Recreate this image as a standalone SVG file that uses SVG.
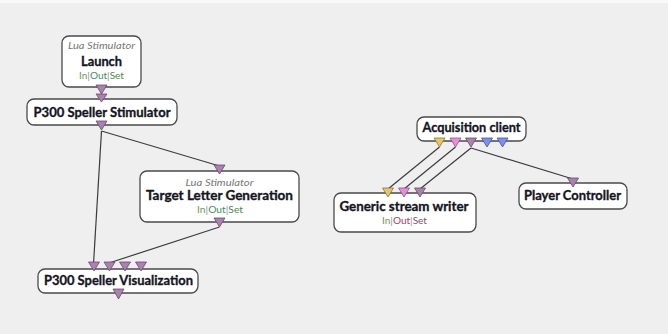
<svg xmlns="http://www.w3.org/2000/svg" width="668" height="334" viewBox="0 0 668 334">
<style>
.box{fill:#fff;stroke:#4a4a4a;stroke-width:1.3}
.name{font-family:Lato,"Liberation Sans",sans-serif;font-weight:bold;font-size:13.5px;fill:#15151f;stroke:#15151f;stroke-width:0.35;text-anchor:middle}
.type{font-family:Lato,"Liberation Sans",sans-serif;font-style:italic;font-size:9.5px;fill:#777;text-anchor:middle}
.ios{font-family:Lato,"Liberation Sans",sans-serif;font-size:9.5px;text-anchor:middle}
.sep{fill:#8a8aa8}
.g1{fill:#6f9a55}.g2{fill:#3f8f5f}.g3{fill:#4a8a4a}
.r2{fill:#a8405e}.r3{fill:#8a4f72}
.stim{fill:#a982ad;stroke:#6a4a6e;stroke-width:0.8}
.sig{fill:#e6c56a;stroke:#8a7440;stroke-width:0.8}
.pink{fill:#e98ed9;stroke:#8e4f86;stroke-width:0.8}
.blue{fill:#7f8ff0;stroke:#4a5696;stroke-width:0.8}
.link{stroke:#3c3c3c;stroke-width:1.2;fill:none}
</style>
<rect x="0" y="0" width="668" height="334" fill="#efefef"/>
<rect x="0" y="0" width="668" height="3" fill="#f8f8f8"/>

<g id="connectors">
<line class="link" x1="101.5" y1="94" x2="101.5" y2="96"/>
<line class="link" x1="101.5" y1="131" x2="219.5" y2="166"/>
<line class="link" x1="101.5" y1="131" x2="93.5" y2="264"/>
<line class="link" x1="219.5" y1="227" x2="109" y2="263"/>
<line class="link" x1="439.5" y1="147" x2="388" y2="189"/>
<line class="link" x1="455.5" y1="147" x2="404" y2="189"/>
<line class="link" x1="471" y1="148" x2="420" y2="189"/>
<line class="link" x1="471" y1="148" x2="573" y2="179"/>
</g>

<g id="launch">
<rect class="box" x="62" y="36" width="79" height="51" rx="7"/>
<text class="type" x="101.5" y="48.5" textLength="67" lengthAdjust="spacingAndGlyphs">Lua Stimulator</text>
<text class="name" x="101.5" y="66" textLength="41" lengthAdjust="spacingAndGlyphs">Launch</text>
<text class="ios" x="101.5" y="78.5" textLength="45" lengthAdjust="spacingAndGlyphs"><tspan class="g1">In</tspan><tspan class="sep">|</tspan><tspan class="g2">Out</tspan><tspan class="sep">|</tspan><tspan class="g3">Set</tspan></text>
<polygon class="stim" points="96,85 107,85 101.5,94"/>
</g>

<g id="p300-stimulator">
<rect class="box" x="27" y="99" width="150" height="26" rx="7"/>
<polygon class="stim" points="96,94 107,94 101.5,102"/>
<text class="name" x="102" y="117" textLength="137" lengthAdjust="spacingAndGlyphs">P300 Speller Stimulator</text>
<polygon class="stim" points="96,121 107,121 101.5,130"/>
</g>

<g id="target-letter-generation">
<rect class="box" x="140" y="171" width="159" height="51" rx="7"/>
<polygon class="stim" points="214,165 225,165 219.5,174"/>
<text class="type" x="219.5" y="185.7" textLength="68" lengthAdjust="spacingAndGlyphs">Lua Stimulator</text>
<text class="name" x="219.5" y="199.5" textLength="147" lengthAdjust="spacingAndGlyphs">Target Letter Generation</text>
<text class="ios" x="220" y="213" textLength="46" lengthAdjust="spacingAndGlyphs"><tspan class="g1">In</tspan><tspan class="sep">|</tspan><tspan class="g2">Out</tspan><tspan class="sep">|</tspan><tspan class="g3">Set</tspan></text>
<polygon class="stim" points="214,218 225,218 219.5,227"/>
</g>

<g id="p300-visualization">
<rect class="box" x="38" y="269" width="160" height="24" rx="7"/>
<polygon class="stim" points="88.5,262 99.5,262 94,271"/>
<polygon class="stim" points="104,262 115,262 109.5,271"/>
<polygon class="stim" points="119.5,262 130.5,262 125,271"/>
<polygon class="stim" points="135.5,262 146.5,262 141,271"/>
<text class="name" x="118.5" y="285" textLength="149" lengthAdjust="spacingAndGlyphs">P300 Speller Visualization</text>
<polygon class="stim" points="113,289 124,289 118.5,299"/>
</g>

<g id="acquisition-client">
<rect class="box" x="417" y="117" width="109" height="24" rx="7"/>
<text class="name" x="471.5" y="132" textLength="98" lengthAdjust="spacingAndGlyphs">Acquisition client</text>
<polygon class="sig" points="434,138 445,138 439.5,147"/>
<polygon class="pink" points="450,138 461,138 455.5,147"/>
<polygon class="stim" points="465.5,138 476.5,138 471,147"/>
<polygon class="blue" points="481.5,138 492.5,138 487,147"/>
<polygon class="blue" points="497,138 508,138 502.5,147"/>
</g>

<g id="generic-stream-writer">
<rect class="box" x="334" y="193" width="142" height="39" rx="7"/>
<polygon class="sig" points="382.5,188 393.5,188 388,197"/>
<polygon class="pink" points="398.5,188 409.5,188 404,197"/>
<polygon class="stim" points="414.5,188 425.5,188 420,197"/>
<text class="name" x="404" y="211" textLength="129" lengthAdjust="spacingAndGlyphs">Generic stream writer</text>
<text class="ios" x="404.5" y="223.5" textLength="45" lengthAdjust="spacingAndGlyphs"><tspan class="g1">In</tspan><tspan class="sep">|</tspan><tspan class="r2">Out</tspan><tspan class="sep">|</tspan><tspan class="r3">Set</tspan></text>
</g>

<g id="player-controller">
<rect class="box" x="519" y="183" width="108" height="26" rx="7"/>
<polygon class="stim" points="567.5,178 578.5,178 573,187"/>
<text class="name" x="572.5" y="199.5" textLength="97" lengthAdjust="spacingAndGlyphs">Player Controller</text>
</g>
</svg>
